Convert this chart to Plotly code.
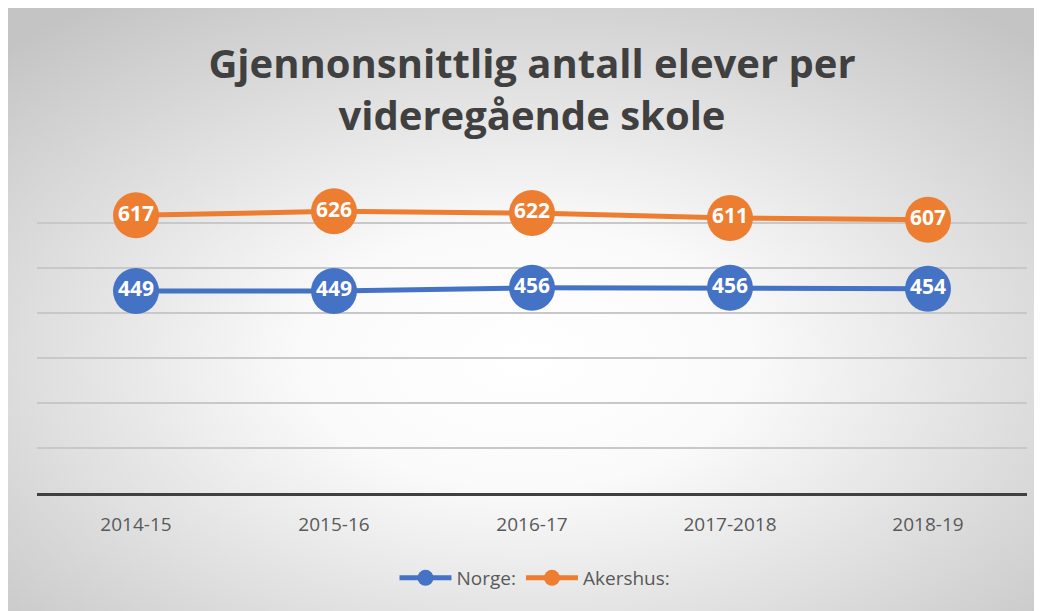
import base64
import plotly.graph_objects as go

categories = ["2014-15", "2015-16", "2016-17", "2017-2018", "2018-19"]
norge = [449, 449, 456, 456, 454]
akershus = [617, 626, 622, 611, 607]
title_text = "Gjennonsnittlig antall elever per<br>videregående skole"

# page offset of the figure (browser body margin)
OX, OY = 8, 8
W, H = 1042 - OX, 611 - OY
L = 37 - OX
R = W - (1027 - OX)
T = 178 - OY
B = H - (493 - OY)
pw, ph = W - L - R, H - T - B

svg = (
    '<svg xmlns="http://www.w3.org/2000/svg" width="1036" height="604" viewBox="0 0 1036 604" preserveAspectRatio="none">'
    '<defs><radialGradient id="g" cx="0.5" cy="0.58" r="0.72">'
    '<stop offset="0" stop-color="#ffffff"/><stop offset="0.3" stop-color="#fafafa"/>'
    '<stop offset="1" stop-color="#c4c4c4"/></radialGradient></defs>'
    '<rect x="0" y="0" width="1036" height="604" fill="url(#g)"/></svg>'
)
src = "data:image/svg+xml;base64," + base64.b64encode(svg.encode()).decode()

font_main = "Open Sans, sans-serif"

fig = go.Figure()
for name, vals, col in [("Norge:", norge, "#4472C4"), ("Akershus:", akershus, "#ED7D31")]:
    fig.add_trace(go.Scatter(
        x=categories, y=vals, name=name, mode="lines+markers+text",
        line=dict(color=col, width=5),
        marker=dict(size=46, color=col),
        text=[str(v) for v in vals], textposition="middle center",
        textfont=dict(color="white", size=21, family=font_main, weight="bold"),
        cliponaxis=False,
    ))

fig.update_layout(
    width=W, height=H,
    margin=dict(l=L, r=R, t=T, b=B),
    paper_bgcolor="white", plot_bgcolor="rgba(0,0,0,0)",
    images=[dict(source=src, xref="paper", yref="paper",
                 x=(0 - L) / pw, y=(H - B) / ph,
                 sizex=W / pw, sizey=H / ph,
                 xanchor="left", yanchor="top", sizing="stretch", layer="below")],
    title=dict(text=title_text, x=(532 - OX) / W, xref="container", y=1 - 70 / H, yref="container",
               xanchor="center", yanchor="middle",
               font=dict(family=font_main, size=40, color="#404040", weight="bold")),
    showlegend=True,
    legend=dict(orientation="h", x=(535 - OX - L) / pw, xanchor="center",
                y=((493 - OY) - (578 - OY)) / ph, yanchor="middle", itemwidth=52,
                font=dict(family=font_main, size=19, color="#595959"), bgcolor="rgba(0,0,0,0)"),
    xaxis=dict(range=[-0.5, 4.5], showline=True, linecolor="#404040", linewidth=3, ticks="", showgrid=False,
               tickfont=dict(family=font_main, size=19, color="#595959"), ticklabelstandoff=12),
    yaxis=dict(range=[0, 700], dtick=100, showgrid=True, gridcolor="#c8c8c8", gridwidth=1.5,
               showticklabels=False, zeroline=False),
)

fig.write_html("out.html")
